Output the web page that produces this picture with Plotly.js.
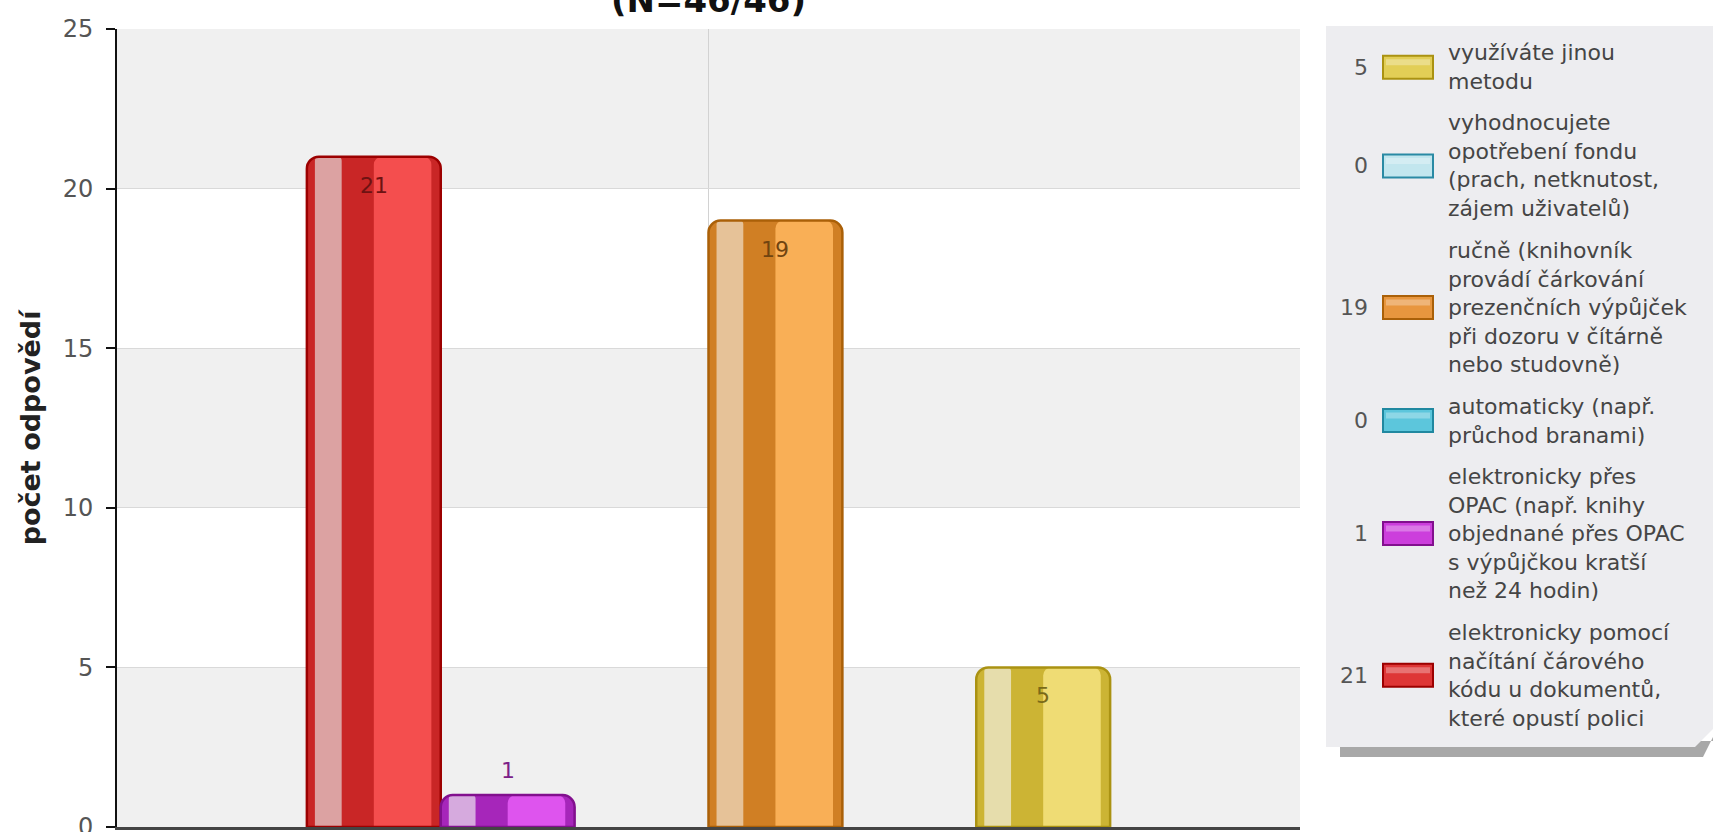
<!DOCTYPE html>
<html>
<head>
<meta charset="utf-8">
<script src="https://cdn.plot.ly/plotly-3.0.1.min.js"></script>
<style>
  html, body { margin: 0; padding: 0; background: #ffffff; }
  #chart { width: 1715px; height: 832px; }
</style>
</head>
<body>
<div id="chart"></div>
<script>
// ---------------- DATA ----------------
const chartTitle = "(N=46/46)";
const yAxisTitle = "počet odpovědí";
const category = [0];
const seriesNames = [
  "elektronicky pomocí<br>načítání čárového<br>kódu u dokumentů,<br>které opustí polici",
  "elektronicky přes<br>OPAC (např. knihy<br>objednané přes OPAC<br>s výpůjčkou kratší<br>než 24 hodin)",
  "automaticky (např.<br>průchod branami)",
  "ručně (knihovník<br>provádí čárkování<br>prezenčních výpůjček<br>při dozoru v čítárně<br>nebo studovně)",
  "vyhodnocujete<br>opotřebení fondu<br>(prach, netknutost,<br>zájem uživatelů)",
  "využíváte jinou<br>metodu"
];
const counts = [21, 1, 0, 19, 0, 5];
const yTickValues = [0, 5, 10, 15, 20, 25];

// ---------------- STYLE ----------------
const baseColors   = ["#c92626", "#a626ba", "#3fb4cc", "#d07f24", "#8ccfe0", "#ccb434"];
const lightColors  = ["#f44e4e", "#de54ee", "#6cd4e6", "#f9af56", "#c0e8f0", "#efdc74"];
const stripeColors = ["#dca2a2", "#d6aade", "#a8dce6", "#e6c298", "#d8f0f6", "#e6ddac"];
const edgeColors   = ["#9c0000", "#82108e", "#2088a0", "#aa6008", "#2a8aa4", "#aa9212"];
const labelColors  = ["#6e1212", "#7c2088", "#1f6a80", "#704410", "#1f6a80", "#7a6a18"];
const swatchFill   = ["#de3636", "#cc3edc", "#5cc6dc", "#e8963e", "#c2e6ee", "#e2ce56"];
const FONT = "DejaVu Sans, Verdana, sans-serif";

// plot area geometry (pixels)
const W = 1715, H = 832;
const M = {l: 117, r: W - 1300, t: 29, b: H - 827};
const PW = W - M.l - M.r, PH = H - M.t - M.b;
const X = px => (px - M.l) / PW;
const Y = py => (H - M.b - py) / PH;

// group layout
const n = counts.length;
const groupWidth = 0.679;
const slot = groupWidth / n;
const offsets = counts.map((_, i) => -groupWidth / 2 + i * slot);

const traces = [];
counts.forEach((v, i) => {
  const o = offsets[i], w = slot;
  const common = {type: "bar", x: category, y: [v], hoverinfo: "skip", showlegend: false};
  traces.push(Object.assign({}, common, {offset: o, width: w,
    marker: {color: baseColors[i], line: {width: 0}, cornerradius: 12}}));
  traces.push(Object.assign({}, common, {offset: o + 0.50 * w, width: 0.43 * w,
    marker: {color: lightColors[i], line: {width: 0}, cornerradius: 8}}));
  traces.push(Object.assign({}, common, {offset: o + 0.06 * w, width: 0.20 * w,
    marker: {color: stripeColors[i], line: {width: 0}, cornerradius: 4}}));
  traces.push(Object.assign({}, common, {offset: o, width: w, name: seriesNames[i],
    marker: {color: "rgba(0,0,0,0)", line: {color: edgeColors[i], width: v === 0 ? 0 : 2.5}, cornerradius: 12}}));
});

// background bands
const shapes = [];
for (let k = 0; k < yTickValues.length - 1; k += 2) {
  shapes.push({type: "rect", xref: "paper", yref: "y", x0: 0, x1: 1,
    y0: yTickValues[k], y1: yTickValues[k + 1], fillcolor: "#f0f0f0", line: {width: 0}, layer: "below"});
}

// bar value labels
const annotations = [];
counts.forEach((v, i) => {
  if (v === 0) return;
  const above = v < 3;
  annotations.push({xref: "x", yref: "y", x: offsets[i] + slot / 2, y: v,
    text: String(v), showarrow: false, xanchor: "center",
    yanchor: above ? "bottom" : "top", yshift: above ? 10 : -14,
    font: {family: FONT, size: 22, color: labelColors[i]}});
});

// custom legend (top to bottom = reversed series order)
const lx0 = 1326, lx1 = 1713, ly0 = 26, ly1 = 747;
shapes.push({type: "path", xref: "paper", yref: "paper", layer: "above",
  path: `M${X(lx0 + 14)},${Y(ly1 - 6)} L${X(lx1)},${Y(ly1 - 6)} L${X(lx1)},${Y(ly1 - 10)} L${X(lx1 - 10)},${Y(ly1 + 10)} L${X(lx0 + 14)},${Y(ly1 + 10)} Z`,
  fillcolor: "#a8a8a8", line: {width: 0}});
shapes.push({type: "path", xref: "paper", yref: "paper", layer: "above",
  path: `M${X(lx0)},${Y(ly0)} L${X(lx1)},${Y(ly0)} L${X(lx1)},${Y(ly1 - 18)} L${X(lx1 - 18)},${Y(ly1)} L${X(lx0)},${Y(ly1)} Z`,
  fillcolor: "#ededf0", line: {width: 0}});

const lineH = 28.6, entryGap = 41.5;
let cursor = 53; // first line center of first entry
for (let j = n - 1; j >= 0; j--) {
  const lines = seriesNames[j].split("<br>").length;
  const first = cursor, last = cursor + (lines - 1) * lineH;
  const cy = (first + last) / 2;
  annotations.push({xref: "paper", yref: "paper", x: X(1446), y: Y(cy),
    text: seriesNames[j], showarrow: false, xanchor: "left", yanchor: "middle", align: "left",
    font: {family: FONT, size: 22, color: "#454545"}});
  annotations.push({xref: "paper", yref: "paper", x: X(1370), y: Y(cy),
    text: String(counts[j]), showarrow: false, xanchor: "right", yanchor: "middle",
    font: {family: FONT, size: 22, color: "#555555"}});
  shapes.push({type: "rect", xref: "paper", yref: "paper", layer: "above",
    x0: X(1383), x1: X(1433), y0: Y(cy + 11.5), y1: Y(cy - 11.5),
    fillcolor: swatchFill[j], line: {color: edgeColors[j], width: 2}});
  shapes.push({type: "rect", xref: "paper", yref: "paper", layer: "above",
    x0: X(1386), x1: X(1430), y0: Y(cy - 2), y1: Y(cy - 8),
    fillcolor: "rgba(255,255,255,0.3)", line: {width: 0}});
  cursor = last + entryGap;
}

const layout = {
  width: W, height: H,
  margin: M,
  paper_bgcolor: "#ffffff",
  plot_bgcolor: "#ffffff",
  barmode: "overlay",
  showlegend: false,
  title: {text: chartTitle, x: 0.5, xref: "paper", y: 1, yref: "container", yanchor: "middle",
    font: {family: FONT, size: 34, color: "#111111", weight: "bold"}},
  xaxis: {type: "linear", range: [-0.5, 0.5], tickvals: category, showticklabels: false, ticks: "",
    showgrid: true, gridcolor: "#d2d2d2", gridwidth: 1, zeroline: false,
    showline: true, linecolor: "#444444", linewidth: 3, fixedrange: true},
  yaxis: {range: [0, 25], tickvals: yTickValues, ticks: "outside", ticklen: 9, tickwidth: 2, tickcolor: "#111111",
    showline: true, linecolor: "#111111", linewidth: 2, showgrid: true, gridcolor: "#d9d9d9", zeroline: false,
    tickfont: {family: FONT, size: 24, color: "#555555"}, ticklabelstandoff: 8, ticklabeloverflow: "allow",
    title: {text: yAxisTitle, standoff: 14, font: {family: FONT, size: 27, color: "#222222", weight: "bold"}},
    fixedrange: true},
  shapes: shapes,
  annotations: annotations
};

Plotly.newPlot("chart", traces, layout, {displayModeBar: false, staticPlot: true});
</script>
</body>
</html>
